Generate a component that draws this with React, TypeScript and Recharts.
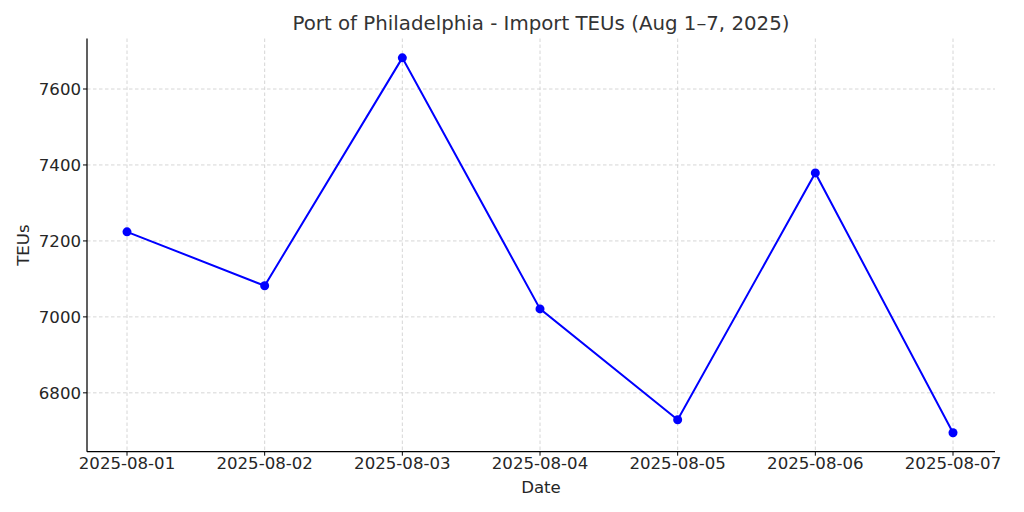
import React from 'react';
import { LineChart, Line, XAxis, YAxis, CartesianGrid } from 'recharts';

const dates = ['2025-08-01', '2025-08-02', '2025-08-03', '2025-08-04', '2025-08-05', '2025-08-06', '2025-08-07'];
const teus = [7224, 7082, 7682, 7021, 6729, 7379, 6695];
const yTicks = [6800, 7000, 7200, 7400, 7600];
const yDomain = [6645, 7733];

const data = dates.map((d, i) => ({ date: d, teus: teus[i] }));

const FONT = '"DejaVu Sans", sans-serif';
const TXT = '#262626';

const PLOT_LEFT = 87;
const PLOT_RIGHT = 995;
const PLOT_TOP = 38.5;
const PLOT_BOTTOM = 451.7;
const PAD_L = 40;
const PAD_R = 42;

export default function App() {
  const hGen = (args: any) => {
    const ys: any = args && args.yAxis && args.yAxis.scale;
    if (ys && typeof ys === 'function') return yTicks.map((t) => ys(t));
    if (ys && typeof ys.map === 'function') return yTicks.map((t) => ys.map(t));
    const h = PLOT_BOTTOM - PLOT_TOP;
    return yTicks.map((t) => PLOT_TOP + ((yDomain[1] - t) / (yDomain[1] - yDomain[0])) * h);
  };
  const vGen = () => {
    const start = PLOT_LEFT + PAD_L;
    const end = PLOT_RIGHT - PAD_R;
    const step = (end - start) / (dates.length - 1);
    return dates.map((_, i) => start + i * step);
  };
  return (
    <div style={{ position: 'absolute', left: 0, top: 0, width: 1024, height: 512, background: '#fff', fontFamily: FONT }}>
      <div style={{ position: 'absolute', left: 87, width: 908, top: 12, textAlign: 'center', fontSize: 19.8, color: '#333', fontFamily: FONT, whiteSpace: 'nowrap', lineHeight: '24px' }}>
        Port of Philadelphia - Import TEUs (Aug 1–7, 2025)
      </div>
      <LineChart width={1024} height={512} data={data} margin={{ top: PLOT_TOP, right: 1024 - PLOT_RIGHT, bottom: 0, left: 0 }}>
        <CartesianGrid
          stroke="#cccccc"
          strokeDasharray="3.5 2.5"
          strokeWidth={0.8}
          vertical
          horizontal
          horizontalCoordinatesGenerator={hGen}
          verticalCoordinatesGenerator={vGen}
        />
        <XAxis
          dataKey="date"
          type="category"
          height={512 - PLOT_BOTTOM}
          padding={{ left: PAD_L, right: PAD_R }}
          tick={{ fontSize: 16.6, fill: TXT, fontFamily: FONT }}
          tickSize={4}
          tickMargin={2}
          axisLine={{ stroke: '#000', strokeWidth: 1.25 }}
          tickLine={{ stroke: '#000', strokeWidth: 1 }}
          interval={0}
          label={{
            content: (props: any) => {
              const vb = props.viewBox;
              return (
                <text x={vb.x + vb.width / 2} y={493} textAnchor="middle" fontSize={16.6} fill={TXT} fontFamily={FONT}>
                  Date
                </text>
              );
            },
          }}
        />
        <YAxis
          width={PLOT_LEFT}
          domain={yDomain}
          ticks={yTicks}
          allowDataOverflow
          type="number"
          tick={{ fontSize: 16.6, fill: TXT, fontFamily: FONT }}
          tickSize={4}
          tickMargin={2}
          axisLine={{ stroke: '#000', strokeWidth: 1.25 }}
          tickLine={{ stroke: '#000', strokeWidth: 1 }}
          label={{
            content: (props: any) => {
              const vb = props.viewBox;
              const cy = vb.y + vb.height / 2;
              return (
                <text x={29} y={cy} textAnchor="middle" fontSize={16.6} fill={TXT} fontFamily={FONT} transform={`rotate(-90 29 ${cy})`}>
                  TEUs
                </text>
              );
            },
          }}
        />
        <Line
          type="linear"
          dataKey="teus"
          stroke="#0000ff"
          strokeWidth={2}
          dot={{ r: 4.5, fill: '#0000ff', stroke: '#0000ff', strokeWidth: 0 }}
          activeDot={false}
          isAnimationActive={false}
        />
      </LineChart>
    </div>
  );
}
